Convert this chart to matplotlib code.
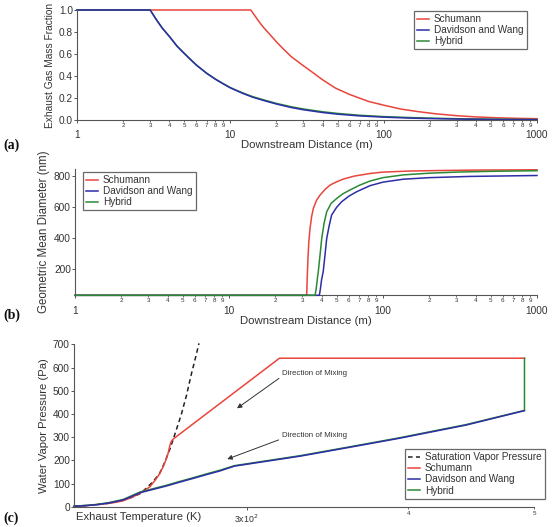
import matplotlib
matplotlib.use('Agg')
import matplotlib.pyplot as plt
from matplotlib.ticker import FixedLocator, FixedFormatter

plt.rcParams['font.family'] = ['Liberation Sans', 'DejaVu Sans']

# ---------------- data: panel (a) exhaust gas mass fraction ----------------
dist_a_red = [1, 13.6, 14.5, 15.4, 16.5, 17.9, 20, 22, 25, 29.5, 35, 40, 48.5, 60, 80, 100,
              130, 170, 220, 300, 400, 550, 750, 1000]
frac_red = [1.0, 1.0, 0.945, 0.893, 0.84, 0.785, 0.71, 0.65, 0.575, 0.50, 0.425, 0.365, 0.29,
            0.232, 0.168, 0.135, 0.099, 0.075, 0.056, 0.039, 0.028, 0.020, 0.015, 0.012]
dist_a_dw = [1, 3, 3.3, 3.6, 4, 4.5, 5, 5.5, 6, 7, 8, 9, 10, 12, 14, 17, 20, 25, 30, 40, 50,
             70, 100, 150, 200, 300, 500, 700, 1000]
frac_dw = [1.0, 1.0, 0.91, 0.835, 0.76, 0.67, 0.606, 0.55, 0.50, 0.425, 0.37, 0.328, 0.292,
           0.243, 0.207, 0.172, 0.145, 0.113, 0.093, 0.068, 0.053, 0.037, 0.026, 0.017, 0.013,
           0.0085, 0.005, 0.0037, 0.0027]
frac_hy = [1.0, 1.0, 0.91, 0.835, 0.76, 0.67, 0.606, 0.55, 0.50, 0.426, 0.372, 0.330, 0.295,
           0.247, 0.212, 0.178, 0.151, 0.120, 0.100, 0.075, 0.060, 0.043, 0.031, 0.022, 0.017,
           0.012, 0.008, 0.006, 0.0045]

# ---------------- data: panel (b) geometric mean diameter ----------------
dist_b_red = [1, 31.96, 32.1, 32.3, 32.6, 33.0, 33.6, 34.4, 35.3, 37, 39, 42, 45.3, 50, 55.3,
              65, 82.3, 100, 150, 225, 400, 1000]
gmd_red = [30, 30, 100, 180, 280, 380, 463, 540, 593, 645, 679, 715, 744, 765, 783, 802, 819,
           828, 835, 838, 841, 843]
dist_b_hy = [1, 36.2, 36.8, 37.4, 38.0, 39.0, 40.0, 41.5, 43.1, 46, 50, 55, 61, 70, 82.3, 100,
             135.5, 200, 300, 500, 1000]
gmd_hy = [30, 30, 70, 130, 183, 290, 398, 500, 571, 625, 657, 688, 712, 742, 770, 792, 810,
          821, 828, 833, 837]
dist_b_dw = [1, 38.6, 39.2, 39.9, 40.9, 42.0, 43.1, 44.7, 46.4, 50, 53.9, 60, 67.5, 82.3, 100,
             135.5, 200, 367, 1000]
gmd_dw = [30, 30, 70, 130, 183, 290, 398, 480, 550, 600, 636, 672, 701, 740, 763, 782, 792,
          800, 806]

# ---------------- data: panel (c) water vapour pressure ----------------
sat_T = [220.7, 225, 230, 235, 240, 244, 248, 251, 254, 257, 259.5, 262, 264.5, 267, 269.5,
         272, 274, 275.6]
sat_P = [3, 5, 9, 15, 26, 38, 55, 80, 108, 144, 195, 255, 325, 395, 478, 575, 645, 704]
red_T = [220.7, 225, 230, 236, 240.7, 245, 249.5, 252.6, 255, 257, 258.6, 259.8, 260.9, 261.5,
         262.0, 262.5, 263.3, 318.0, 491.6]
red_P = [2, 4, 9, 16, 25, 42, 65, 86, 115, 142, 172, 200, 230, 255, 273, 283, 292, 640, 640]
dw_T = [220.7, 225, 230, 235, 240.8, 244, 248.1, 255, 260, 266, 272.8, 280, 286.0, 293.6, 330,
        360.2, 393.6, 443.2, 491.6]
dw_P = [2, 4, 9, 16, 29, 42, 60, 77, 89, 105, 122, 140, 154, 175, 218, 256, 295, 352, 414]
hy_T = [220.7, 225, 230, 235, 240.8, 244, 248.1, 255, 260, 266, 272.8, 280, 286.0, 293.6, 330,
        360.2, 393.6, 443.2, 491.6, 491.6]
hy_P = [2, 5, 10, 18, 31, 45, 63, 80, 92, 108, 125, 143, 157, 177, 220, 258, 297, 354, 415, 640]

labels3 = ['Schumann', 'Davidson and Wang', 'Hybrid']

RED = '#e8453c'
BLUE = '#2e2ea6'
GREEN = '#2b8a35'
TXT = '#333333'
SPINE = '#555555'
LW = 1.1

fig = plt.figure(figsize=(5.53, 5.27), dpi=100)
W, H = 553.0, 527.0


def add_ax(l, t, r, b):
    return fig.add_axes([l / W, 1 - b / H, (r - l) / W, (b - t) / H])


def style(ax):
    for s in ['top', 'right']:
        ax.spines[s].set_visible(False)
    for s in ['left', 'bottom']:
        ax.spines[s].set_color(SPINE)
        ax.spines[s].set_linewidth(0.8)
    ax.tick_params(axis='y', which='both', colors=SPINE, labelcolor=TXT,
                   labelsize=7.3, length=2, width=0.7, pad=1)


def log_dist_axis(ax):
    ax.set_xscale('log')
    ax.set_xlim(1, 1000)
    ax.xaxis.set_major_locator(FixedLocator([1, 10, 100, 1000]))
    ax.xaxis.set_major_formatter(FixedFormatter(['1', '10', '100', '1000']))
    minors = [m * 10 ** e for e in range(3) for m in range(2, 10)]
    ax.xaxis.set_minor_locator(FixedLocator(minors))
    ax.xaxis.set_minor_formatter(FixedFormatter([str(m) for e in range(3) for m in range(2, 10)]))
    ax.tick_params(axis='x', which='major', colors=SPINE, labelcolor=TXT,
                   labelsize=7.3, length=2, width=0.7, pad=5.5)
    ax.tick_params(axis='x', which='minor', colors=SPINE, labelcolor=TXT,
                   labelsize=4.5, length=1.5, width=0.6, pad=0.8)


def legend(handles, labels, x, y):
    lg = fig.legend(handles, labels, loc='upper left', bbox_to_anchor=(x / W, 1 - y / H),
                    fontsize=7.2, frameon=True, fancybox=False, borderaxespad=0,
                    borderpad=0.3, labelspacing=0.12, handlelength=1.2,
                    handletextpad=0.5)
    lg.get_frame().set_edgecolor('#444444')
    lg.get_frame().set_linewidth(0.9)
    for t in lg.get_texts():
        t.set_color(TXT)
    return lg


def panel_label(txt, y):
    fig.text(3 / W, 1 - y / H, txt, family='Liberation Serif', fontweight='bold',
             fontsize=10, va='center', ha='left', color='#111111')


# ---------------- panel (a) ----------------
axa = add_ax(77, 10, 537, 120)
style(axa)
log_dist_axis(axa)
la1, = axa.plot(dist_a_red, frac_red, color=RED, lw=LW, clip_on=False)
la3, = axa.plot(dist_a_dw, frac_hy, color=GREEN, lw=LW, clip_on=False)
la2, = axa.plot(dist_a_dw, frac_dw, color=BLUE, lw=LW, clip_on=False)
axa.set_ylim(0, 1.0)
axa.set_yticks([0, 0.2, 0.4, 0.6, 0.8, 1.0])
axa.set_yticklabels(['0.0', '0.2', '0.4', '0.6', '0.8', '1.0'])
axa.set_ylabel('Exhaust Gas Mass Fraction', fontsize=7.3, color=TXT, labelpad=3)
axa.set_xlabel('Downstream Distance (m)', fontsize=8.2, color=TXT, labelpad=0)
legend([la1, la2, la3], labels3, 414, 11)
panel_label('(a)', 145)

# ---------------- panel (b) ----------------
axb = add_ax(75, 168.7, 537, 295.3)
style(axb)
log_dist_axis(axb)
lb1, = axb.plot(dist_b_red, gmd_red, color=RED, lw=LW, clip_on=False, zorder=3)
lb2, = axb.plot(dist_b_dw, gmd_dw, color=BLUE, lw=LW, clip_on=False, zorder=3)
lb3, = axb.plot(dist_b_hy, gmd_hy, color=GREEN, lw=LW, clip_on=False, zorder=3)
axb.set_ylim(30, 850)
axb.set_yticks([200, 400, 600, 800])
axb.set_ylabel('Geometric Mean Diameter (nm)', fontsize=8.3, color=TXT, labelpad=3)
axb.set_xlabel('Downstream Distance (m)', fontsize=8.2, color=TXT, labelpad=0)
legend([lb1, lb2, lb3], labels3, 83, 172)
panel_label('(b)', 315)

# ---------------- panel (c) ----------------
axc = add_ax(74, 344.3, 534, 506.7)
style(axc)
axc.set_xscale('log')
axc.set_xlim(220.7, 500)
axc.set_ylim(0, 700)
axc.set_yticks([0, 100, 200, 300, 400, 500, 600, 700])
axc.xaxis.set_major_locator(FixedLocator([300]))
axc.xaxis.set_major_formatter(FixedFormatter([r'3x10$^{2}$']))
axc.xaxis.set_minor_locator(FixedLocator([400, 500]))
axc.xaxis.set_minor_formatter(FixedFormatter(['4', '5']))
axc.tick_params(axis='x', which='major', colors=SPINE, labelcolor=TXT,
                labelsize=6.3, length=2, width=0.7, pad=2.5)
axc.tick_params(axis='x', which='minor', colors=SPINE, labelcolor=TXT,
                labelsize=4.5, length=1.5, width=0.6, pad=1.5)
lc0, = axc.plot(sat_T, sat_P, color='#222222', lw=1.1, dashes=(3, 2.2), clip_on=False)
lc1, = axc.plot(red_T, red_P, color=RED, lw=LW, clip_on=False)
lc3, = axc.plot(hy_T, hy_P, color=GREEN, lw=LW, clip_on=False)
lc2, = axc.plot(dw_T, dw_P, color=BLUE, lw=LW, clip_on=False)
axc.set_ylabel('Water Vapor Pressure (Pa)', fontsize=8.1, color=TXT, labelpad=3)
axc.text(0.005, -0.065, 'Exhaust Temperature (K)', transform=axc.transAxes,
         fontsize=8.1, color=TXT, ha='left', va='center')
axc.annotate('', xy=(293.7, 417), xytext=(319.0, 560),
             arrowprops=dict(arrowstyle='-|>', color='#333333', lw=0.7, mutation_scale=7))
axc.annotate('', xy=(288.5, 201), xytext=(319.0, 292),
             arrowprops=dict(arrowstyle='-|>', color='#333333', lw=0.7, mutation_scale=7))
axc.text(319.5, 575, 'Direction of Mixing', fontsize=5.7, color=TXT, ha='left', va='center')
axc.text(319.5, 309, 'Direction of Mixing', fontsize=5.7, color=TXT, ha='left', va='center')
legend([lc0, lc1, lc2, lc3],
       ['Saturation Vapor Pressure', 'Schumann', 'Davidson and Wang', 'Hybrid'], 405, 449)
panel_label('(c)', 518)

fig.savefig('out.png', dpi=100)
